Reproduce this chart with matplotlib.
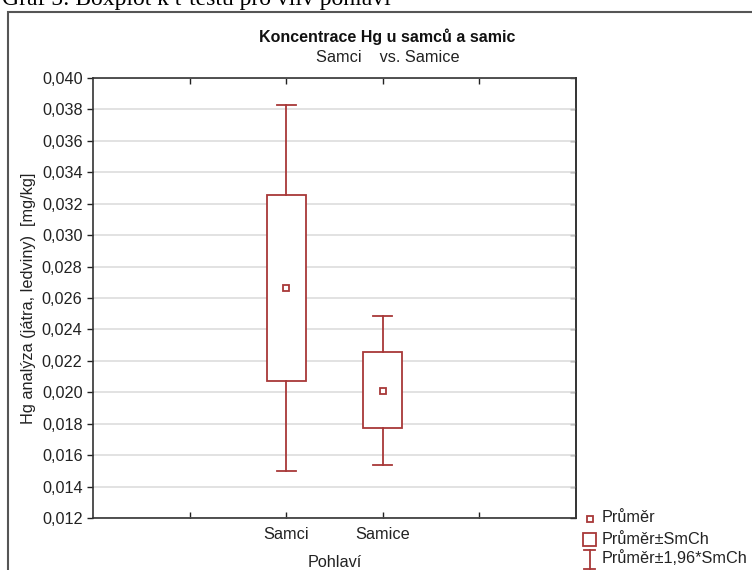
import matplotlib
matplotlib.use("Agg")
import matplotlib.pyplot as plt
from matplotlib.patches import Rectangle
from matplotlib.lines import Line2D
from matplotlib.ticker import FuncFormatter, FixedLocator, NullFormatter

plt.rcParams['font.family'] = ['Liberation Sans', 'DejaVu Sans']

categories = ['Samci', 'Samice']
means = [0.02662, 0.02008]
box_low = [0.02072, 0.01771]
box_high = [0.03253, 0.02254]
whisk_low = [0.01497, 0.01537]
whisk_high = [0.03828, 0.02487]
positions = [2, 3]
ytick_vals = [0.012, 0.014, 0.016, 0.018, 0.020, 0.022, 0.024, 0.026,
              0.028, 0.030, 0.032, 0.034, 0.036, 0.038, 0.040]

col = '#A83838'
txtc = '#222222'
fs = 11.7
fig = plt.figure(figsize=(7.52, 5.70), dpi=100)
ax = fig.add_axes([93/752, 52/570, 483/752, 440/570])

for p, m, bl, bh, wl, wh in zip(positions, means, box_low, box_high, whisk_low, whisk_high):
    ax.add_patch(Rectangle((p - 0.2, bl), 0.4, bh - bl, facecolor='white', edgecolor=col, lw=1.3, zorder=3))
    ax.plot([p, p], [bh, wh], color=col, lw=1.3, zorder=3)
    ax.plot([p, p], [wl, bl], color=col, lw=1.3, zorder=3)
    ax.plot([p - 0.1, p + 0.1], [wh, wh], color=col, lw=1.3, zorder=3)
    ax.plot([p - 0.1, p + 0.1], [wl, wl], color=col, lw=1.3, zorder=3)
    ax.plot([p], [m], marker='s', ms=5, mfc='white', mec=col, mew=1.3, zorder=4)

ax.set_xlim(0, 5)
ax.set_ylim(0.012, 0.040)
ax.xaxis.set_major_locator(FixedLocator([1, 2, 3, 4]))
ax.set_xticklabels(['', categories[0], categories[1], ''])
ax.yaxis.set_major_locator(FixedLocator(ytick_vals))
ax.yaxis.set_major_formatter(FuncFormatter(lambda v, p: f"{v:.3f}".replace('.', ',')))
ax.tick_params(axis='y', direction='out', length=4, labelsize=fs, colors=txtc, width=1)
ax.tick_params(axis='x', direction='in', length=4, labelsize=fs, colors=txtc, width=1, top=True, pad=6.5)

sec = ax.secondary_yaxis('right')
sec.yaxis.set_major_locator(FixedLocator(ytick_vals))
sec.yaxis.set_major_formatter(NullFormatter())
sec.tick_params(direction='in', length=4, width=1, colors='#333333')
sec.spines['right'].set_color('#333333')
sec.spines['right'].set_linewidth(1.2)

ax.grid(axis='y', color='#dddddd', lw=1.2, zorder=0)
ax.set_axisbelow(True)
for s in ax.spines.values():
    s.set_color('#333333')
    s.set_linewidth(1.2)

ax.set_xlabel('Pohlaví', fontsize=fs, color=txtc, labelpad=9)
ax.set_ylabel('Hg analýza (játra, ledviny)  [mg/kg]', fontsize=fs, color=txtc, labelpad=4)

fig.text(387/752, 1 - 37/570, 'Koncentrace Hg u samců a samic', ha='center', va='center',
         fontsize=11.5, fontweight='bold', color='#111111')
fig.text(388/752, 1 - 58/570, 'Samci    vs. Samice', ha='center', va='center',
         fontsize=fs, color=txtc)

# top caption (cut off in the reference)
fig.text(2/752, 1 - 5/570, 'Graf 5: Boxplot k t-testu pro vliv pohlaví', ha='left', va='baseline',
         fontsize=17, family=['Liberation Serif', 'DejaVu Serif'], color='black')

# outer frame
fig.add_artist(Rectangle((8/752, -0.1), 1.2, 1 - 12/570 + 0.1, transform=fig.transFigure,
                         facecolor='none', edgecolor='#555555', lw=1.5))

# legend
fig.add_artist(Line2D([589.5/752], [1 - 519/570], marker='s', ms=5, mfc='white', mec=col, mew=1.3,
                      transform=fig.transFigure))
fig.text(602/752, 1 - 518/570, 'Průměr', ha='left', va='center', fontsize=fs, color=txtc)
fig.add_artist(Rectangle((583/752, 1 - 546/570), 13/752, 13/570, transform=fig.transFigure,
                         facecolor='white', edgecolor=col, lw=1.3))
fig.text(602/752, 1 - 539/570, 'Průměr±SmCh', ha='left', va='center', fontsize=fs, color=txtc)
fig.add_artist(Line2D([589.5/752, 589.5/752], [1 - 550/570, 1 - 572/570], color=col, lw=1.3,
                      transform=fig.transFigure))
fig.add_artist(Line2D([584/752, 595/752], [1 - 550/570, 1 - 550/570], color=col, lw=1.3,
                      transform=fig.transFigure))
fig.add_artist(Line2D([584/752, 595/752], [1 - 569/570, 1 - 569/570], color=col, lw=1.3,
                      transform=fig.transFigure))
fig.text(602/752, 1 - 558/570, 'Průměr±1,96*SmCh', ha='left', va='center', fontsize=fs, color=txtc)

fig.savefig('out.png', dpi=100)
